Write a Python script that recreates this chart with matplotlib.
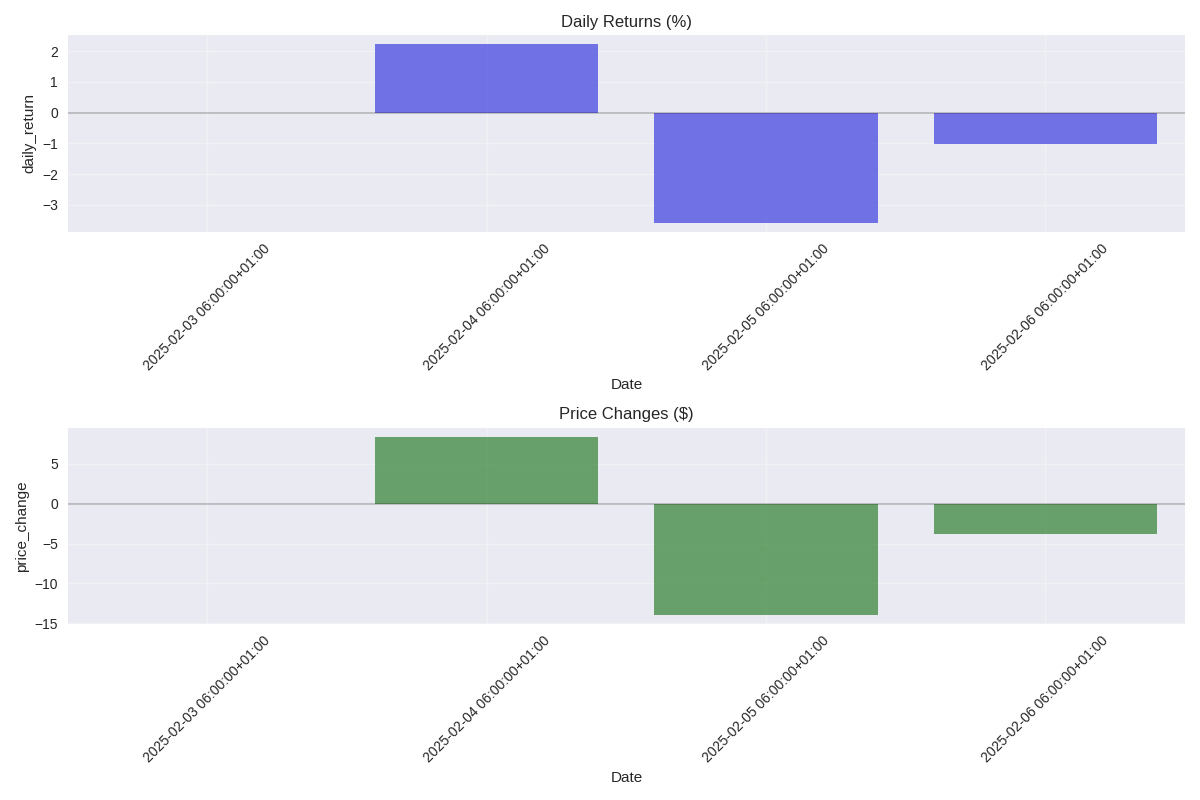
import matplotlib
matplotlib.use("Agg")
import matplotlib.pyplot as plt
import numpy as np
import seaborn as sns

dates = [
    "2025-02-03 06:00:00+01:00",
    "2025-02-04 06:00:00+01:00",
    "2025-02-05 06:00:00+01:00",
    "2025-02-06 06:00:00+01:00",
]
daily_return = [np.nan, 2.22, -3.58, -1.02]
price_change = [np.nan, 8.42, -14.01, -3.82]

plt.style.use("seaborn-v0_8")
plt.rcParams["font.family"] = ["Liberation Sans", "DejaVu Sans"]
plt.rcParams["axes.titlesize"] = 12
plt.rcParams["axes.labelsize"] = 11
plt.rcParams["xtick.labelsize"] = 10
plt.rcParams["ytick.labelsize"] = 10


def draw_panel(ax, values, color, title, ylabel):
    x = np.arange(len(dates))
    ax.bar(x, values, width=0.8, color=sns.desaturate(color, 0.75), alpha=0.6)
    ax.axhline(0, color="black", alpha=0.2, linewidth=1.5)
    ax.set_xlim(-0.5, len(dates) - 0.5)
    ax.set_xticks(x)
    ax.set_xticklabels(dates, rotation=45)
    ax.set_title(title)
    ax.set_xlabel("Date")
    ax.set_ylabel(ylabel)
    ax.grid(True, alpha=0.3)


fig, (ax1, ax2) = plt.subplots(2, 1, figsize=(12, 8))
draw_panel(ax1, daily_return, "blue", "Daily Returns (%)", "daily_return")
draw_panel(ax2, price_change, "green", "Price Changes ($)", "price_change")

fig.tight_layout()
fig.savefig("out.png", dpi=100)
plt.close(fig)
